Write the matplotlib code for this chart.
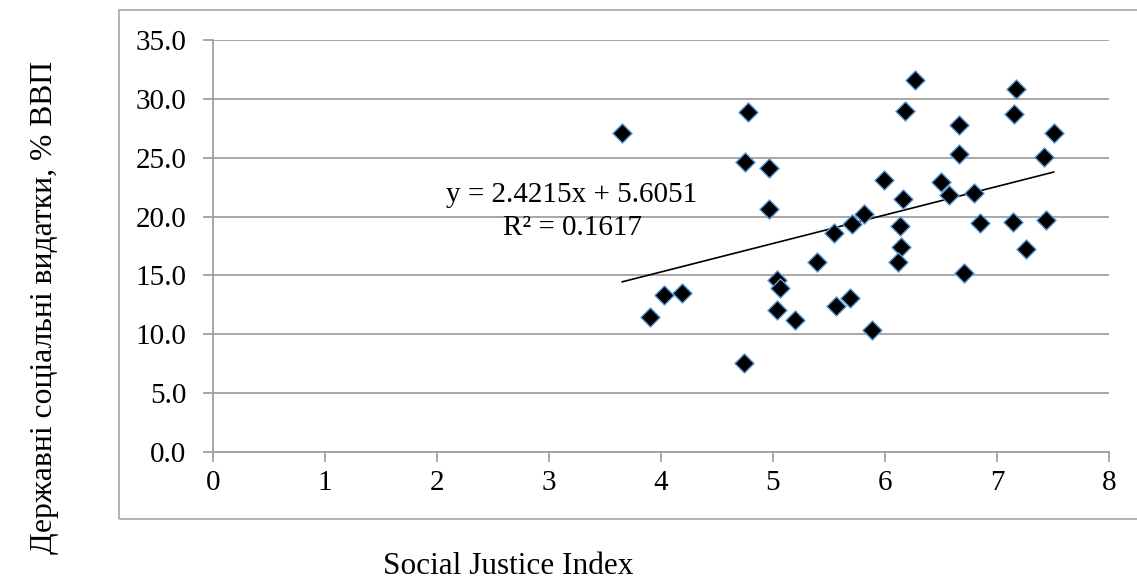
import numpy as np
import matplotlib
matplotlib.use("Agg")
import matplotlib.pyplot as plt
from matplotlib.patches import Rectangle

plt.rcParams['font.family'] = ['Liberation Serif', 'DejaVu Serif']

# Data
sji = [3.656, 4.782, 4.753, 4.967, 4.961, 3.905, 4.030, 4.19, 4.738, 5.038,
       5.065, 5.041, 5.20, 5.393, 5.547, 5.565, 5.684, 5.705, 5.809, 5.889,
       6.265, 6.181, 5.994, 6.157, 6.137, 6.143, 6.116, 6.663, 6.657, 6.503,
       6.568, 6.797, 6.851, 6.702, 7.17, 7.155, 7.506, 7.416, 7.14, 7.44, 7.259]
spend = [27.07, 28.91, 24.66, 24.16, 20.65, 11.50, 13.34, 13.54, 7.53, 14.61,
         13.9, 12.06, 11.2, 16.17, 18.63, 12.43, 13.11, 19.37, 20.22, 10.37,
         31.6, 29.0, 23.11, 21.52, 19.2, 17.44, 16.12, 27.78, 25.32, 22.91,
         21.84, 22.03, 19.43, 15.18, 30.82, 28.72, 27.08, 25.09, 19.52, 19.71, 17.22]
slope, intercept, r2 = 2.4215, 5.6051, 0.1617
xticks = [0, 1, 2, 3, 4, 5, 6, 7, 8]
yticks = [0, 5, 10, 15, 20, 25, 30, 35]

W, H = 1137, 584
fig = plt.figure(figsize=(W / 100, H / 100), dpi=100)
ax = fig.add_axes([212.7 / W, 1 - 452 / H, (1109 - 212.7) / W, (452 - 40) / H])

# outer chart border
fig.patches.append(Rectangle((119 / W, 1 - 519 / H), (1250 - 119) / W, (519 - 10) / H,
                             transform=fig.transFigure, fill=False,
                             edgecolor='#a6a6a6', linewidth=1.2, clip_on=False))

ax.set_xlim(0, 8)
ax.set_ylim(0, 35)
ax.set_xticks(xticks)
ax.set_yticks(yticks)
ax.set_xticklabels([str(v) for v in xticks])
ax.set_yticklabels([f"{v:.1f}" for v in yticks])
ax.grid(axis='y', color='#a0a0a0', linewidth=1.3)
ax.set_axisbelow(True)
for s in ['top', 'right']:
    ax.spines[s].set_visible(False)
for s in ['left', 'bottom']:
    ax.spines[s].set_color('#a0a0a0')
    ax.spines[s].set_linewidth(1.3)
ax.tick_params(axis='both', length=7, width=1.3, color='#a0a0a0',
               labelsize=21, direction='out')
ax.tick_params(axis='x', pad=6)
ax.tick_params(axis='y', pad=12)

ax.scatter(sji, spend, marker='D', s=95, facecolor='black',
           edgecolor='#5b9bd5', linewidth=1.0, zorder=3)

xs = np.array([min(sji), max(sji)])
ax.plot(xs, slope * xs + intercept, color='black', linewidth=1.2, zorder=2)

ax.text(3.205, 21.8, f"y = {slope}x + {intercept}", fontsize=21, ha='center', va='center')
ax.text(3.215, 19.0, f"R² = {r2}", fontsize=21, ha='center', va='center')

fig.text(508 / W, 1 - 566 / H, "Social Justice Index", fontsize=22.5, ha='center', va='center')
fig.text(45 / W, 1 - 307 / H, "Державні соціальні видатки, % ВВП", fontsize=22.8,
         rotation=90, ha='center', va='center')

fig.savefig("out.png", dpi=100)
